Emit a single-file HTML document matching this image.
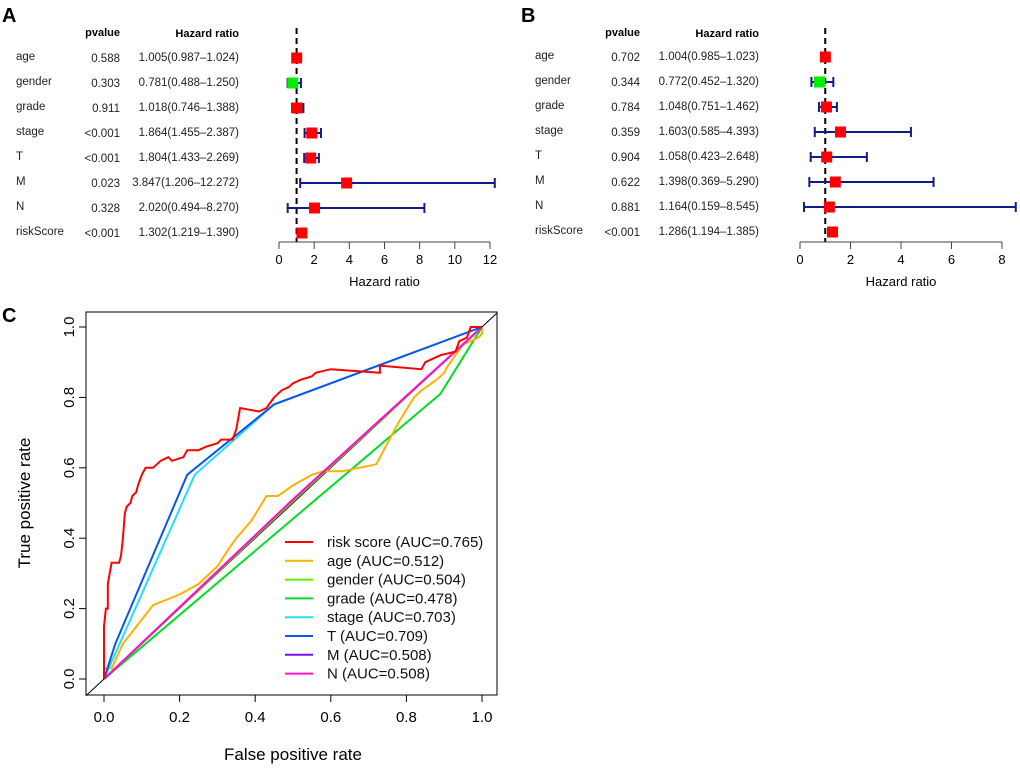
<!DOCTYPE html>
<html><head><meta charset="utf-8"><style>
body{margin:0;background:#fff;font-family:"Liberation Sans",Arial,sans-serif}
svg text{font-family:"Liberation Sans",Arial,sans-serif}
</style></head><body>
<svg id="s" width="1020" height="770" xmlns="http://www.w3.org/2000/svg"></svg>
<script>
const NS='http://www.w3.org/2000/svg';
const svg=document.getElementById('s');
function mk(t,a,p,txt){const e=document.createElementNS(NS,t);for(const k in a)e.setAttribute(k,a[k]);if(txt!==undefined)e.textContent=txt;(p||svg).appendChild(e);return e;}

// ---- forest data ----
const vars=['age','gender','grade','stage','T','M','N','riskScore'];
const pA=['0.588','0.303','0.911','<0.001','<0.001','0.023','0.328','<0.001'];
const hrA=[1.005,0.781,1.018,1.864,1.804,3.847,2.020,1.302];
const loA=[0.987,0.488,0.746,1.455,1.433,1.206,0.494,1.219];
const hiA=[1.024,1.250,1.388,2.387,2.269,12.272,8.270,1.390];
const pB=['0.702','0.344','0.784','0.359','0.904','0.622','0.881','<0.001'];
const hrB=[1.004,0.772,1.048,1.603,1.058,1.398,1.164,1.286];
const loB=[0.985,0.452,0.751,0.585,0.423,0.369,0.159,1.194];
const hiB=[1.023,1.320,1.462,4.393,2.648,5.290,8.545,1.385];
const ticksA=[0,2,4,6,8,10,12];
const ticksB=[0,2,4,6,8];

function forest(cfg){
  const g=mk('g',{});
  
  
  const sx=v=>cfg.x0+(v-0)*(cfg.x1-cfg.x0)/cfg.tmax;
  const ry=i=>cfg.y0+i*25;
  mk('text',{x:cfg.lx-14,y:22,'font-size':20,'font-weight':'bold',},g,cfg.letter);
  mk('text',{x:cfg.px,y:36,'font-size':11,'font-weight':'bold','text-anchor':'end',},g,'pvalue');
  mk('text',{x:cfg.hx,y:37,'font-size':11,'font-weight':'bold','text-anchor':'end',},g,'Hazard ratio');
  const f=v=>v.toFixed(3);
  for(let i=0;i<vars.length;i++){
    const y=ry(i);
    mk('text',{x:cfg.lx,y:y+3,'font-size':11.5,fill:'#222',},g,vars[i]);
    mk('text',{x:cfg.px,y:y+5,'font-size':11.5,fill:'#222','text-anchor':'end',},g,cfg.p[i]);
    mk('text',{x:cfg.hx,y:y+4,'font-size':11.5,fill:'#222','text-anchor':'end',},g,f(cfg.hr[i])+'('+f(cfg.lo[i])+'\u2013'+f(cfg.hi[i])+')');
  }
  mk('line',{x1:sx(1),x2:sx(1),y1:28,y2:242,stroke:'#000','stroke-width':2,'stroke-dasharray':'6,4',},g);
  for(let i=0;i<vars.length;i++){
    const y=ry(i)+1;
    const a=sx(cfg.lo[i]),b=sx(cfg.hi[i]);
    mk('line',{x1:a,x2:b,y1:y,y2:y,stroke:'#0f1d8a','stroke-width':2,},g);
    mk('line',{x1:a,x2:a,y1:y-5,y2:y+5,stroke:'#0f1d8a','stroke-width':2},g);
    mk('line',{x1:b,x2:b,y1:y-5,y2:y+5,stroke:'#0f1d8a','stroke-width':2},g);
    mk('rect',{x:sx(cfg.hr[i])-5.5,y:y-5.5,width:11,height:11,fill:cfg.hr[i]<1?'#00ee00':'#ff0000',},g);
  }
  mk('line',{x1:sx(0),x2:sx(cfg.tmax),y1:242,y2:242,stroke:'#444','stroke-width':1,},g);
  for(const t of cfg.ticks){
    mk('line',{x1:sx(t),x2:sx(t),y1:242,y2:249,stroke:'#444'},g);
    mk('text',{x:sx(t),y:264,'font-size':13,'text-anchor':'middle',},g,t);
  }
  mk('text',{x:(sx(0)+sx(cfg.tmax))/2,y:286,'font-size':13,'text-anchor':'middle',},g,'Hazard ratio');
}
forest({name:'forest-plot-a',letter:'A',lx:16,px:120,hx:239,x0:279,x1:490,tmax:12,y0:57,p:pA,hr:hrA,lo:loA,hi:hiA,ticks:ticksA});
forest({name:'forest-plot-b',letter:'B',lx:535,px:640,hx:759,x0:800,x1:1002,tmax:8,y0:56,p:pB,hr:hrB,lo:loB,hi:hiB,ticks:ticksB});

// ---- ROC data ----
const riskX=[0,0,0.005,0.01,0.01,0.02,0.04,0.045,0.05,0.055,0.06,0.07,0.075,0.085,0.09,0.1,0.11,0.13,0.15,0.17,0.18,0.21,0.22,0.25,0.27,0.3,0.31,0.34,0.35,0.36,0.41,0.43,0.45,0.47,0.49,0.5,0.52,0.55,0.56,0.6,0.73,0.73,0.84,0.85,0.87,0.89,0.93,0.94,0.96,0.97,1];
const riskY=[0,0.15,0.2,0.2,0.27,0.33,0.33,0.35,0.4,0.47,0.49,0.5,0.52,0.53,0.55,0.58,0.6,0.6,0.62,0.63,0.62,0.63,0.65,0.65,0.66,0.67,0.68,0.68,0.71,0.77,0.76,0.77,0.8,0.82,0.83,0.84,0.85,0.86,0.87,0.88,0.87,0.89,0.88,0.9,0.91,0.92,0.93,0.96,0.97,1,1];
const ageX=[0,0,0.02,0.05,0.13,0.2,0.25,0.29,0.3,0.33,0.35,0.39,0.43,0.46,0.5,0.55,0.58,0.63,0.72,0.76,0.78,0.82,0.84,0.88,0.9,0.91,0.93,0.95,0.97,0.99,1,1];
const ageY=[0,0.03,0.03,0.1,0.21,0.24,0.27,0.31,0.32,0.37,0.4,0.45,0.52,0.52,0.55,0.58,0.59,0.59,0.61,0.69,0.73,0.8,0.82,0.85,0.87,0.89,0.92,0.95,0.96,0.97,0.98,1];
const genderX=[0,0.5,1], genderY=[0,0.505,1];
const gradeX=[0,0.89,1], gradeY=[0,0.81,1];
const stageX=[0,0.24,0.45,1], stageY=[0,0.58,0.78,1];
const tX=[0,0.03,0.22,0.45,1], tY=[0,0.1,0.58,0.78,1];
const mX=[0,0.5,1], mY=[0,0.51,1];
const nX=[0,0.5,1], nY=[0,0.51,1];
const legendLabels=['risk score (AUC=0.765)','age (AUC=0.512)','gender (AUC=0.504)','grade (AUC=0.478)','stage (AUC=0.703)','T (AUC=0.709)','M (AUC=0.508)','N (AUC=0.508)'];
const rocTicks=[0,0.2,0.4,0.6,0.8,1.0];

const X=v=>104+v*378, Y=v=>679-v*352;
const roc=mk('g',{});


mk('text',{x:2,y:322,'font-size':20,'font-weight':'bold',},roc,'C');
mk('rect',{x:86,y:312,width:411,height:383,fill:'none',stroke:'#000','stroke-width':1,},roc);
for(const t of rocTicks){
  mk('line',{x1:X(t),x2:X(t),y1:695,y2:702,stroke:'#000'},roc);
  mk('text',{x:X(t),y:722,'font-size':15,'text-anchor':'middle',},roc,t.toFixed(1));
  mk('line',{x1:79,x2:86,y1:Y(t),y2:Y(t),stroke:'#000'},roc);
  mk('text',{x:0,y:0,'font-size':15,'text-anchor':'middle',transform:`translate(74,${Y(t)}) rotate(-90)`,},roc,t.toFixed(1));
}
mk('text',{x:293,y:760,'font-size':17,'text-anchor':'middle',},roc,'False positive rate');
mk('text',{x:0,y:0,'font-size':17,'text-anchor':'middle',transform:'translate(30,503) rotate(-90)',},roc,'True positive rate');
mk('line',{x1:86,y1:Y((86-104)/378),x2:497,y2:Y((497-104)/378),stroke:'#000','stroke-width':1,},roc);
const series=[[gradeX,gradeY,'#00dd22','grade-curve'],[genderX,genderY,'#66ee00','gender-curve'],[ageX,ageY,'#ffb000','age-curve'],[stageX,stageY,'#22ddff','stage-curve'],[mX,mY,'#7711ee','m-curve'],[nX,nY,'#ff11cc','n-curve'],[tX,tY,'#0a55ee','t-curve'],[riskX,riskY,'#ff0000','risk-score-curve']];
for(const [xs,ys,col,nm] of series){
  const pts=xs.map((v,i)=>X(v).toFixed(1)+','+Y(ys[i]).toFixed(1)).join(' ');
  const pl=mk('polyline',{points:pts,fill:'none',stroke:col,'stroke-width':2},roc);
  
  
}
const legCols=['#ff0000','#ffb000','#66ee00','#00dd22','#22ddff','#0a55ee','#7711ee','#ff11cc'];
for(let i=0;i<legendLabels.length;i++){
  const y=542+i*18.8;
  const le=mk('g',{},roc);
  
  
  mk('line',{x1:285,x2:313,y1:y,y2:y,stroke:legCols[i],'stroke-width':2},le);
  mk('text',{x:327,y:y+5,'font-size':15,fill:'#111'},le,legendLabels[i]);
}
</script>
</body></html>
